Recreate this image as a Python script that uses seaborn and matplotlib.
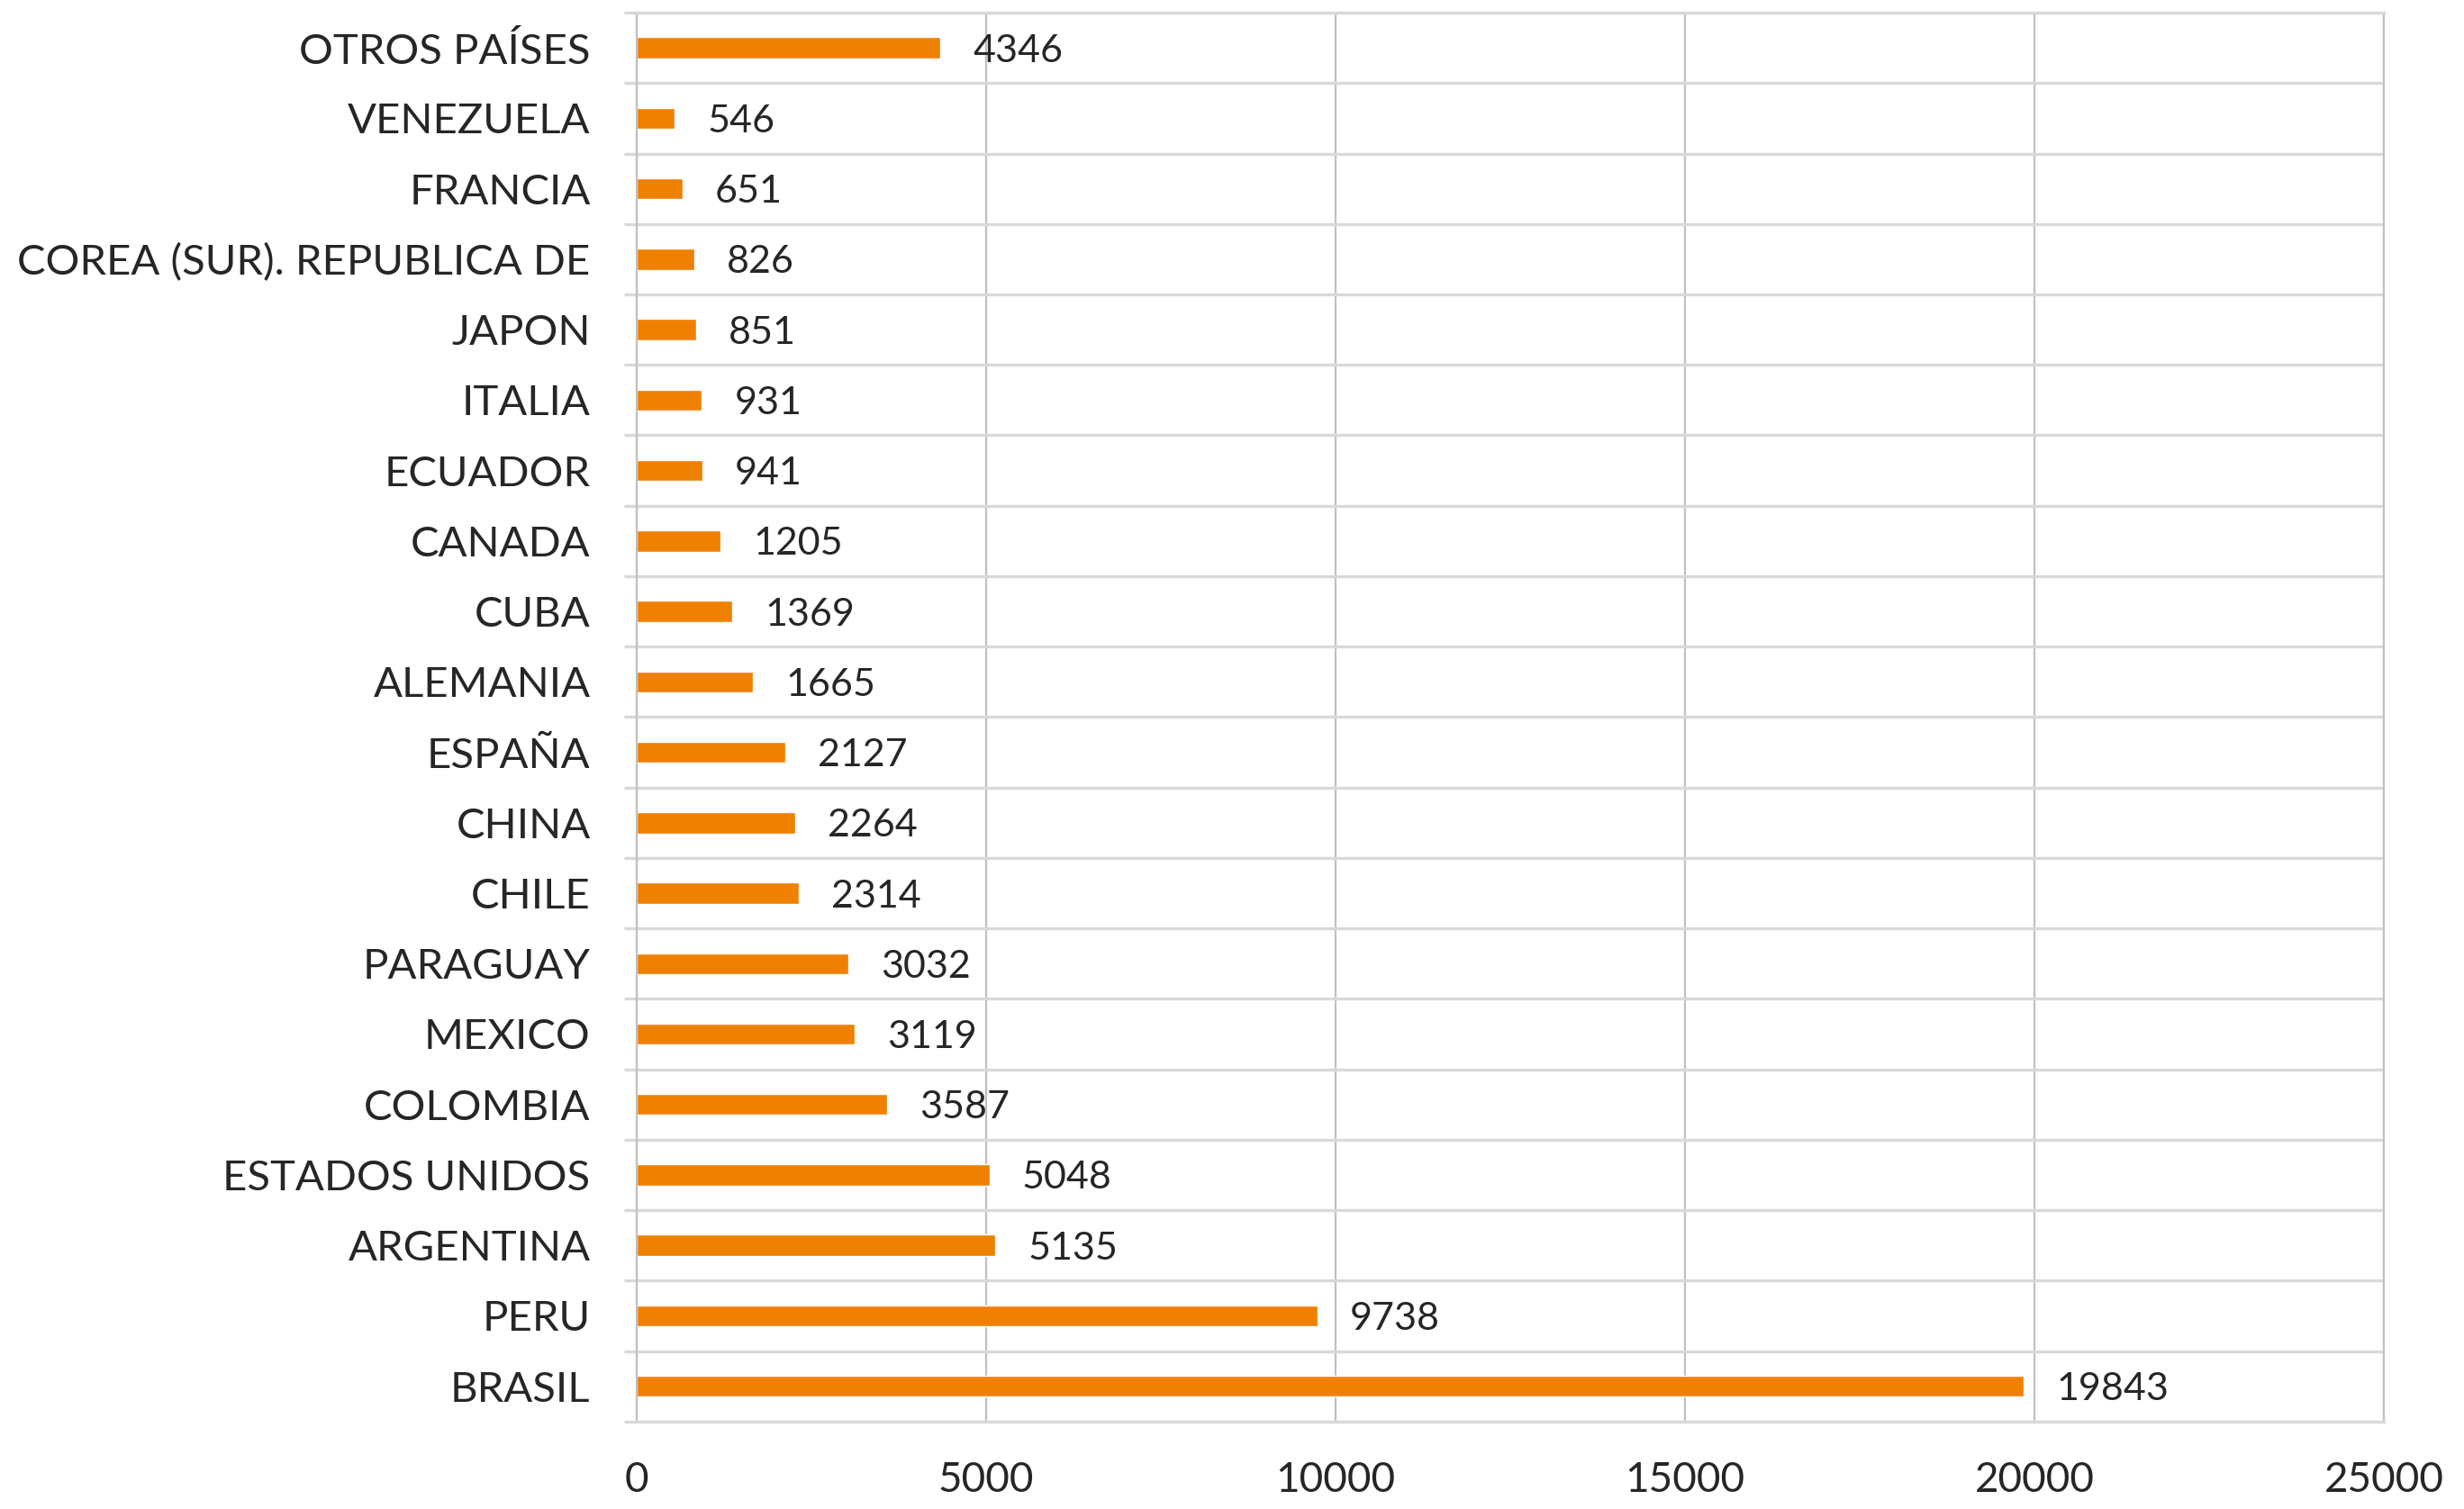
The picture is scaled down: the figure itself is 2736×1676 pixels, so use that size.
import matplotlib
matplotlib.use("Agg")
import matplotlib.pyplot as plt
import seaborn as sns
import pandas as pd
import numpy as np

# Countries listed top to bottom, with their counts
countries = ["OTROS PAÍSES", "VENEZUELA", "FRANCIA", "COREA (SUR). REPUBLICA DE",
             "JAPON", "ITALIA", "ECUADOR", "CANADA", "CUBA", "ALEMANIA", "ESPAÑA",
             "CHINA", "CHILE", "PARAGUAY", "MEXICO", "COLOMBIA", "ESTADOS UNIDOS",
             "ARGENTINA", "PERU", "BRASIL"]
values = [4346, 546, 651, 826, 851, 931, 941, 1205, 1369, 1665, 2127,
          2264, 2314, 3032, 3119, 3587, 5048, 5135, 9738, 19843]
x_ticks = [0, 5000, 10000, 15000, 20000, 25000]

df = pd.DataFrame({"pais": countries, "valor": values})

sns.set_theme(style="white")
plt.rcParams["font.family"] = ["Lato", "DejaVu Sans"]

BAR = "#F08000"
HGRID = "#D9D9D9"
VGRID = "#C0C0C0"
TEXT = "#262626"

fig = plt.figure(figsize=(27.36, 16.76), dpi=100)
ax = fig.add_axes([0.2584, 0.058, 0.9675 - 0.2584, 0.9916 - 0.058])

sns.barplot(data=df, x="valor", y="pais", order=countries, orient="h",
            color=BAR, saturation=1, width=0.3, ax=ax)

ax.set_xlim(x_ticks[0], x_ticks[-1])
ax.set_ylim(len(countries) - 0.5, -0.5)
ax.set_xticks(x_ticks)
ax.set_xticklabels([str(t) for t in x_ticks])
ax.set_xlabel("")
ax.set_ylabel("")

# vertical value gridlines
ax.xaxis.grid(True, color=VGRID, linewidth=1.6)
# horizontal separators between categories (with small outward ticks)
bounds = np.arange(-0.5, len(countries), 1.0)
ax.set_yticks(bounds, minor=True)
ax.yaxis.grid(True, which="minor", color=HGRID, linewidth=2.4)
ax.yaxis.grid(False, which="major")
ax.set_axisbelow(True)

ax.tick_params(axis="y", which="major", length=0, pad=37, labelsize=34, labelcolor=TEXT)
ax.tick_params(axis="y", which="minor", length=10, width=2.4, color=HGRID, left=True)
ax.tick_params(axis="x", which="major", length=0, pad=32, labelsize=33, labelcolor=TEXT)

for side in ["top", "bottom"]:
    ax.spines[side].set_color(HGRID)
    ax.spines[side].set_linewidth(2.4)
for side in ["left", "right"]:
    ax.spines[side].set_color(VGRID)
    ax.spines[side].set_linewidth(1.6)

labels = ax.bar_label(ax.containers[0], labels=[str(v) for v in values],
                      padding=26, fontsize=31, color=TEXT)
for t in labels:
    t.set_va("center_baseline")

fig.savefig("out.png", dpi=100, facecolor="white")
